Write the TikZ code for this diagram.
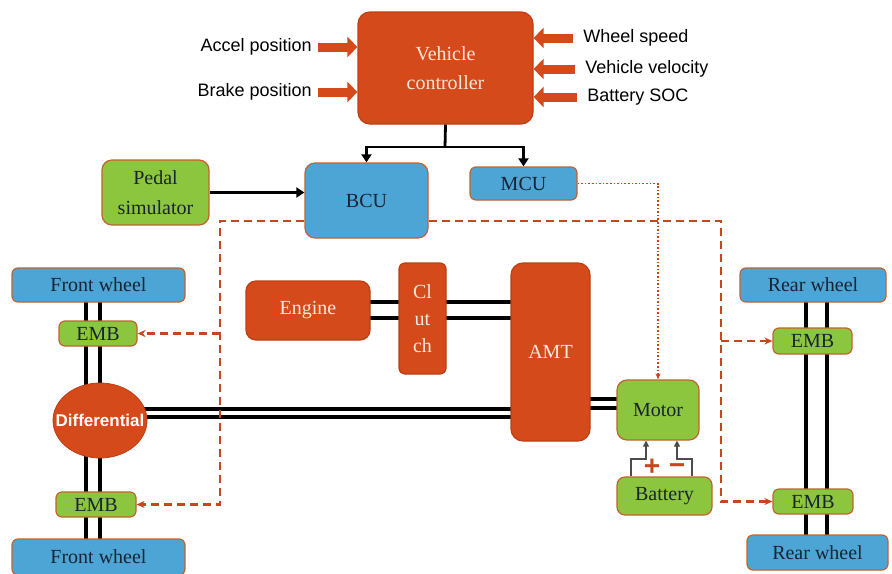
\documentclass[tikz,border=0pt]{standalone}
\usepackage{fontspec}
\setmainfont{Liberation Serif}
\newfontfamily\arialfont{Liberation Sans}
\usetikzlibrary{arrows.meta,shapes.geometric,backgrounds}

\begin{document}
\begin{tikzpicture}[x=0.5pt,y=-0.5pt,
  blk/.style={draw=rimc,line width=0.6pt,rounded corners=3pt,inner sep=0pt,align=center,font=\fontsize{10}{11}\selectfont},
  org/.style={blk,fill=orgc,text=creamc,draw=orgd},
  blu/.style={blk,fill=bluc,text=inkc},
  grn/.style={blk,fill=grnc,text=inkc},
  lbl/.style={font=\arialfont\fontsize{9}{10}\selectfont,inner sep=3pt},
  inarrow/.style={orgc,line width=4.5pt,-{Triangle[width=10pt,length=5pt]}},
  ctrl/.style={line width=1.4pt,-{Triangle[width=5pt,length=4pt]}},
  brake/.style={brkc,line width=1.2pt,dash pattern=on 4pt off 2.5pt,-{Stealth[length=4pt,width=3.5pt]}},
  sig/.style={brkc,line width=0.8pt,densely dotted,-{Stealth[length=3pt,width=2.5pt]}},
  shaft/.style={line width=1.8pt},
  wire/.style={black!70,line width=0.6pt,-{Triangle[width=3pt,length=3pt]}}]

\definecolor{orgc}{RGB}{212,74,26};
\definecolor{orgd}{RGB}{190,62,20};
\definecolor{bluc}{RGB}{77,165,214};
\definecolor{grnc}{RGB}{140,198,63};
\definecolor{rimc}{RGB}{196,98,45};
\definecolor{inkc}{RGB}{25,35,50};
\definecolor{creamc}{RGB}{252,232,218};
\definecolor{brkc}{RGB}{200,70,30};

\useasboundingbox (0,0) rectangle (892,573);

% controllers
\node[org,rounded corners=6pt,minimum width=87.5pt,minimum height=56pt,font=\fontsize{10}{14.5}\selectfont] (vc) at (445.5,68) {Vehicle\\controller};
\node[blu,rounded corners=5pt,minimum width=61.5pt,minimum height=37.5pt] (bcu) at (366.5,200.5) {BCU};
\node[blu,minimum width=53.5pt,minimum height=16.5pt] (mcu) at (523.5,183.5) {MCU};
\node[grn,rounded corners=5pt,minimum width=53.5pt,minimum height=32.5pt,font=\fontsize{10}{15}\selectfont] (pedal) at (155.5,192.5) {Pedal\\simulator};

% input signals
\node[lbl,anchor=east] (accel) at (318,47) {Accel position};
\node[lbl,anchor=east] (brakepos) at (318,92) {Brake position};
\node[lbl,anchor=west] (wspeed) at (577,38) {Wheel speed};
\node[lbl,anchor=west] (vvel) at (579,69) {Vehicle velocity};
\node[lbl,anchor=west] (soc) at (581,97) {Battery SOC};

\foreach \n in {accel,brakepos} \draw[inarrow] (\n.east) -- (\n.east -| vc.west);
\foreach \n in {wspeed,vvel,soc} \draw[inarrow] ([xshift=-2pt]\n.west) -- (\n.west -| vc.east);

% front axle
\node[blu,minimum width=86.5pt,minimum height=17pt] (fwt) at (98.5,285) {Front wheel};
\node[grn,minimum width=39pt,minimum height=12.5pt] (embft) at (98,333.5) {EMB};
\node[ellipse,fill=orgc,draw=orgd,minimum width=47pt,minimum height=37.5pt,inner sep=0pt,
  label={[text=white,font=\arialfont\bfseries\fontsize{8.5}{10}\selectfont]center:Differential}] (diff) at (100,420.5) {};
\node[grn,minimum width=40pt,minimum height=12.5pt] (embfb) at (96,504.5) {EMB};
\node[blu,minimum width=86.5pt,minimum height=18pt] (fwb) at (98.5,557) {Front wheel};

% powertrain
\node[org,rounded corners=5pt,minimum width=62pt,minimum height=29.5pt] (engine) at (308,310.5) {Engine};
\node[org,minimum width=23.5pt,minimum height=55.5pt,font=\fontsize{10}{13.5}\selectfont] (clutch) at (422.5,318.5) {Cl\\ut\\ch};
\node[org,rounded corners=6pt,minimum width=39.5pt,minimum height=89pt] (amt) at (550.5,352) {AMT};
\node[grn,rounded corners=5pt,minimum width=41pt,minimum height=30pt] (motor) at (658,410) {Motor};
\node[grn,rounded corners=4pt,minimum width=47.5pt,minimum height=19pt] (battery) at (664.5,496) {Battery};

% rear axle
\node[blu,minimum width=73pt,minimum height=17pt] (rwt) at (813,285) {Rear wheel};
\node[grn,minimum width=39.5pt,minimum height=13pt] (embrt) at (812.5,341) {EMB};
\node[grn,minimum width=40pt,minimum height=12.5pt] (embrb) at (813,501.5) {EMB};
\node[blu,minimum width=70.5pt,minimum height=17.5pt] (rwb) at (817.5,552.5) {Rear wheel};

% shafts
\begin{scope}[on background layer]
\fill[white] (0,0) rectangle (892,573);
\foreach \x in {86,100} \draw[shaft] (\x,0 |- fwt) -- (\x,0 |- fwb);
\foreach \x in {806,827} \draw[shaft] (\x,0 |- rwt) -- (\x,0 |- rwb);
\foreach \y in {409,417} \draw[shaft] (diff |- 0,\y) -- (amt |- 0,\y);
\foreach \y in {302,318} \draw[shaft] (engine |- 0,\y) -- (amt |- 0,\y);
\foreach \y in {399,408} \draw[shaft] (amt |- 0,\y) -- (motor |- 0,\y);
\end{scope}

% control commands
\coordinate (split) at (445,147);
\draw[line width=1.4pt] (vc.south) -- (split);
\draw[ctrl] (split) -| (bcu.north);
\draw[ctrl] (split) -| (mcu.north);
\draw[ctrl,line width=1.8pt] (pedal.east) -- (pedal.east -| bcu.west);

% brake commands
\coordinate (bl) at (220,221);
\coordinate (br) at (721,221);
\draw[brake] (bcu.west |- bl) -| (bl |- embfb) -- (embfb.east);
\draw[brake] (bl |- embft) -- (embft.east);
\draw[brake] (bcu.east |- br) -| (br |- embrb) -- (embrb.west);
\draw[brake] (br |- embrt) -- (embrt.west);
\draw[sig] (mcu.east) -| (motor.north);

% battery leads
\draw[wire] (battery.north -| 631,0) |- (646,459) -- (motor.south -| 646,0);
\draw[wire] (battery.north -| 692,0) |- (677,459) -- (motor.south -| 677,0);
\node[text=brkc,font=\arialfont\bfseries\fontsize{14}{14}\selectfont] (plus) at (652,467) {+};
\node[text=brkc,font=\arialfont\bfseries\fontsize{14}{14}\selectfont] (minus) at (677,469) {−};
\end{tikzpicture}
\end{document}
